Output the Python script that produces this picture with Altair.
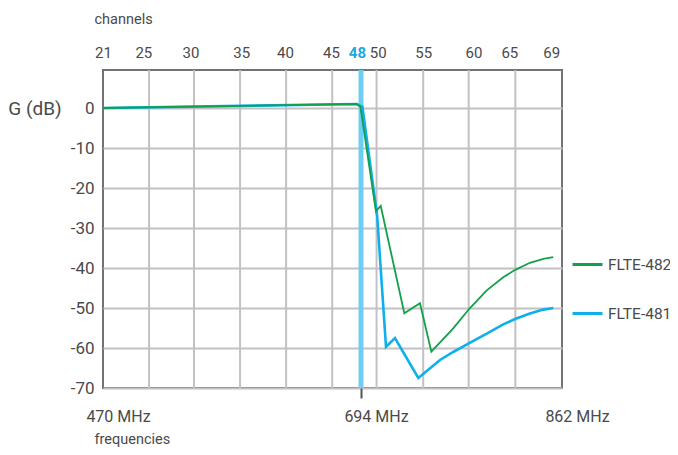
import json
import altair as alt
import pandas as pd

# ---- data ----
series_names = ["FLTE-482", "FLTE-481"]
series_colors = ["#12a04b", "#0fb0ea"]

freq_482 = [470, 690, 693.5, 706.5, 710.5, 730.2, 743.3, 752.8, 771.1, 784.5, 799.1, 812.9, 823.3, 835.2, 846.4, 854.7]
gain_482 = [0.0, 1.0, 0.3, -25.8, -24.5, -51.3, -48.8, -60.9, -55.1, -50.2, -45.6, -42.3, -40.4, -38.7, -37.7, -37.3]

freq_481 = [470, 690.5, 695.2, 707.5, 714.9, 722.4, 741.9, 760.0, 771.1, 784.5, 799.1, 812.9, 823.3, 835.2, 846.4, 854.7]
gain_481 = [0.0, 1.0, 0.3, -27.0, -59.7, -57.5, -67.5, -63.0, -61.0, -58.8, -56.4, -54.1, -52.7, -51.4, -50.4, -50.0]

channel_labels = ["21", "25", "30", "35", "40", "45", "48", "50", "55", "60", "65", "69"]
channel_freqs = [470, 505, 546, 590, 628, 668, 690.5, 708, 746, 788, 818, 853]
highlight_channel_freq = 690.5

freq_ticks = [470, 694, 862]
marker_freq = [694]
grid_freqs = [510, 549, 589, 629, 669, 707, 746, 784, 823]
gain_ticks = [0, -10, -20, -30, -40, -50, -60, -70]

# ---- styling ----
FONT = "Roboto, Liberation Sans, sans-serif"
TEXT = "#4a4a4a"
GRID = "#c1c1c6"
BAND = "#6fcdf2"

df_482 = pd.DataFrame({"freq": freq_482, "gain": gain_482, "series": series_names[0]})
df_481 = pd.DataFrame({"freq": freq_481, "gain": gain_481, "series": series_names[1]})
df_grid = pd.DataFrame({"freq": grid_freqs})
df_band = pd.DataFrame({"freq": marker_freq})

xscale = alt.Scale(domain=[470, 694, 862], range=[0, 258, 459], nice=False, zero=False)
yscale = alt.Scale(domain=[-70, 9.5], nice=False, zero=False)

label_expr_top = f"{json.dumps(channel_labels)}[indexof({json.dumps(channel_freqs)}, datum.value)]"

top_axis = alt.Axis(
    orient="top", values=channel_freqs, labelExpr=label_expr_top,
    title="channels", titleX=-9, titleY=-51, titleAlign="left", titleBaseline="middle",
    titleFont=FONT, titleFontSize=14.5, titleFontWeight="normal", titleColor=TEXT,
    labelFont=FONT, labelFontSize=15, labelPadding=10, labelFlush=False, labelOverlap=False,
    labelColor={"condition": {"test": f"datum.value == {highlight_channel_freq}", "value": "#1ea8e2"}, "value": TEXT},
    labelFontWeight={"condition": {"test": f"datum.value == {highlight_channel_freq}", "value": "bold"}, "value": "normal"},
    ticks=False, tickSize=0, domain=False, grid=False,
)

bottom_axis = alt.Axis(
    orient="bottom", values=freq_ticks, labelExpr="datum.value + ' MHz'",
    title="frequencies", titleX=-9, titleY=51, titleAlign="left", titleBaseline="middle",
    titleFont=FONT, titleFontSize=14.5, titleFontWeight="normal", titleColor=TEXT,
    labelFont=FONT, labelFontSize=16, labelColor=TEXT, labelOffset=15, labelPadding=10,
    labelFlush=False, labelOverlap=False,
    tickSize=10, tickWidth=2,
    tickColor={"condition": {"test": "datum.value == 694", "value": "#555555"}, "value": "transparent"},
    domain=False, grid=False,
)

y_axis = alt.Axis(
    values=gain_ticks, labelExpr="'' + datum.value",
    title="G (dB)", titleAngle=0, titleX=-68.5, titleY=38,
    titleAlign="center", titleBaseline="middle",
    titleFont=FONT, titleFontSize=19, titleFontWeight="normal", titleColor=TEXT,
    labelFont=FONT, labelFontSize=17, labelColor=TEXT, labelPadding=9,
    ticks=False, tickSize=0, domain=False, grid=True, gridColor=GRID, gridWidth=2,
)

color_scale = alt.Scale(domain=series_names, range=series_colors)
legend = alt.Legend(
    orient="none", legendX=468, legendY=178, title=None, padding=0,
    symbolType="stroke", symbolSize=900, symbolStrokeWidth=3,
    labelFont=FONT, labelFontSize=15.5, labelColor=TEXT, labelOffset=4,
    rowPadding=24, direction="vertical",
)

grid = alt.Chart(df_grid).mark_rule(color=GRID, strokeWidth=2).encode(
    x=alt.X("freq:Q", scale=xscale, axis=top_axis)
)

band = alt.Chart(df_band).mark_rule(color=BAND, strokeWidth=5).encode(
    x=alt.X("freq:Q", scale=xscale, axis=None)
)

line_481 = alt.Chart(df_481).mark_line(strokeWidth=2.6).encode(
    x=alt.X("freq:Q", scale=xscale, axis=bottom_axis),
    y=alt.Y("gain:Q", scale=yscale, axis=y_axis),
    color=alt.Color("series:N", scale=color_scale, legend=legend),
)

line_482 = alt.Chart(df_482).mark_line(strokeWidth=1.8).encode(
    x=alt.X("freq:Q", scale=xscale, axis=None),
    y=alt.Y("gain:Q", scale=yscale, axis=y_axis),
    color=alt.Color("series:N", scale=color_scale, legend=legend),
)

chart = (
    alt.layer(grid, band, line_481, line_482)
    .resolve_axis(x="independent")
    .properties(
        width=459, height=318,
        autosize=alt.AutoSizeParams(type="none"),
        padding={"left": 95, "top": 62, "right": 108, "bottom": 59},
        background="white",
    )
    .configure_view(stroke="#727272", strokeWidth=2)
)

chart.save("out.html", embed_options={"renderer": "svg", "actions": False})
